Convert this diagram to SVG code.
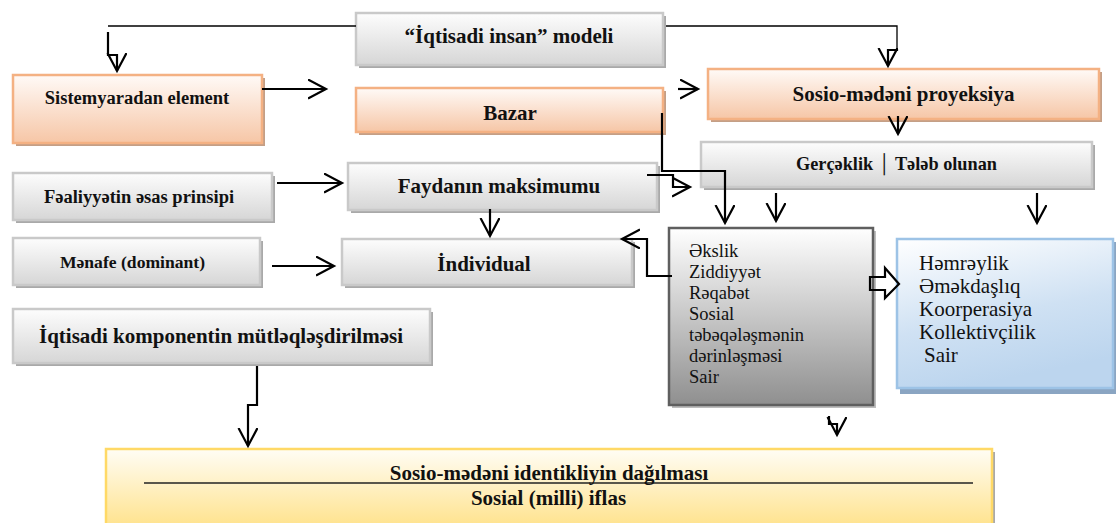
<svg xmlns="http://www.w3.org/2000/svg" width="1116" height="523" viewBox="0 0 1116 523">
<defs>
<linearGradient id="gGrey" x1="0" y1="0" x2="0" y2="1"><stop offset="0" stop-color="#fdfdfd"/><stop offset="1" stop-color="#d6d6d6"/></linearGradient>
<linearGradient id="gOrange" x1="0" y1="0" x2="0" y2="1"><stop offset="0" stop-color="#fffaf7"/><stop offset="1" stop-color="#f6c6a6"/></linearGradient>
<linearGradient id="gDark" x1="0" y1="0" x2="0" y2="1"><stop offset="0" stop-color="#ffffff"/><stop offset="1" stop-color="#8f8f8f"/></linearGradient>
<linearGradient id="gBlue" x1="0" y1="0" x2="0.3" y2="1"><stop offset="0" stop-color="#ffffff"/><stop offset="0.6" stop-color="#cfe1f3"/><stop offset="1" stop-color="#bcd5ee"/></linearGradient>
<linearGradient id="gGold" x1="0" y1="0" x2="0" y2="1"><stop offset="0" stop-color="#fffdf5"/><stop offset="1" stop-color="#ffe38f"/></linearGradient>
<marker id="ah" markerUnits="userSpaceOnUse" markerWidth="22" markerHeight="22" refX="18" refY="10" orient="auto">
<path d="M0,0.5 L18,10 L0,19.5" fill="none" stroke="#000" stroke-width="2.2"/>
</marker>
</defs>
<style>
.grey{fill:url(#gGrey);stroke:#c9c9c9;stroke-width:2.5}
.orange{fill:url(#gOrange);stroke:#f4b183;stroke-width:2.5}
.dark{fill:url(#gDark);stroke:#5f5f5f;stroke-width:2.5}
.blue{fill:url(#gBlue);stroke:#9dc3e6;stroke-width:2.5}
.gold{fill:url(#gGold);stroke:#ffd966;stroke-width:2.5}
.shG{fill:#a9a9a9}
.shO{fill:#c49f86}
.shD{fill:#bdbdbd}
.shB{fill:#8aa5c2}
.b{font-family:"Liberation Serif","DejaVu Serif","Times New Roman",serif;font-weight:bold;fill:#111;text-anchor:middle}
.r{font-family:"Liberation Serif","DejaVu Serif","Times New Roman",serif;fill:#111}
.con path{fill:none;stroke:#000;stroke-width:2.2}
.con .thin{stroke-width:1.3}
</style>

<g id="model">
<rect class="shG" x="359" y="16" width="307" height="52"/>
<rect class="grey" x="356" y="13" width="307" height="52"/>
<text class="b" x="509" y="43" font-size="21">“İqtisadi insan” modeli</text>
</g>

<g id="sistemyaradan">
<rect class="shO" x="16" y="78" width="249" height="68"/>
<rect class="orange" x="13" y="75" width="249" height="68"/>
<text class="b" x="137" y="104" font-size="18.5">Sistemyaradan element</text>
</g>

<g id="bazar">
<rect class="shO" x="359" y="91" width="307" height="44"/>
<rect class="orange" x="356" y="88" width="307" height="44"/>
<text class="b" x="510" y="120" font-size="21">Bazar</text>
</g>

<g id="proyeksiya">
<rect class="shO" x="711" y="72" width="391" height="50"/>
<rect class="orange" x="708" y="69" width="391" height="50"/>
<text class="b" x="903.5" y="101" font-size="21">Sosio-mədəni proyeksiya</text>
</g>

<g id="gercheklik">
<rect class="shG" x="704" y="145" width="391" height="45"/>
<rect class="grey" x="701" y="142" width="391" height="45"/>
<text class="b" x="896.5" y="170" font-size="18.3">Gerçəklik │ Tələb olunan</text>
</g>

<g id="fealiyyet">
<rect class="shG" x="16" y="176" width="259" height="47"/>
<rect class="grey" x="13" y="173" width="259" height="47"/>
<text class="b" x="139" y="203" font-size="18.5">Fəaliyyətin əsas prinsipi</text>
</g>

<g id="faydanin">
<rect class="shG" x="351" y="166" width="309" height="47"/>
<rect class="grey" x="348" y="163" width="309" height="47"/>
<text class="b" x="499" y="193" font-size="21">Faydanın maksimumu</text>
</g>

<g id="menafe">
<rect class="shG" x="16" y="241" width="247" height="47"/>
<rect class="grey" x="13" y="238" width="247" height="47"/>
<text class="b" x="132.5" y="268" font-size="17.6">Mənafe (dominant)</text>
</g>

<g id="individual">
<rect class="shG" x="345" y="242" width="290" height="46"/>
<rect class="grey" x="342" y="239" width="290" height="46"/>
<text class="b" x="484" y="271" font-size="21">İndividual</text>
</g>

<g id="komponent">
<rect class="shG" x="16" y="312" width="417" height="54"/>
<rect class="grey" x="13" y="309" width="417" height="54"/>
<text class="b" x="221" y="343" font-size="21">İqtisadi komponentin mütləqləşdirilməsi</text>
</g>

<g id="ekslik">
<rect class="shD" x="672" y="231" width="204" height="177"/>
<rect class="dark" x="669" y="228" width="204" height="177"/>
<text class="r" x="689" y="257" font-size="18.5">Əkslik</text>
<text class="r" x="689" y="278" font-size="18.5">Ziddiyyət</text>
<text class="r" x="689" y="299" font-size="18.5">Rəqabət</text>
<text class="r" x="689" y="320" font-size="18.5">Sosial</text>
<text class="r" x="689" y="341" font-size="18.5">təbəqələşmənin</text>
<text class="r" x="689" y="362" font-size="18.5">dərinləşməsi</text>
<text class="r" x="689" y="383" font-size="18.5">Sair</text>
</g>

<g id="hemreylik">
<rect class="shB" x="900" y="242" width="216" height="152"/>
<rect class="blue" x="897" y="239" width="216" height="149"/>
<text class="r" x="919" y="270" font-size="21">Həmrəylik</text>
<text class="r" x="919" y="293" font-size="21">Əməkdaşlıq</text>
<text class="r" x="919" y="316" font-size="21">Koorperasiya</text>
<text class="r" x="919" y="339" font-size="21">Kollektivçilik</text>
<text class="r" x="924" y="362" font-size="21">Sair</text>
</g>

<g id="iflas">
<rect class="shG" x="109" y="452" width="886" height="74"/>
<rect class="gold" x="106" y="449" width="886" height="76"/>
<line x1="144" y1="483" x2="973" y2="483" stroke="#222" stroke-width="1.3"/>
<text class="b" x="549" y="480" font-size="21">Sosio-mədəni identikliyin dağılması</text>
<text class="b" x="548.5" y="505" font-size="21">Sosial (milli) iflas</text>
</g>

<g id="connectors" class="con">
<path class="thin" d="M108,26 H356"/>
<path d="M108,32 V55 H117 V71" marker-end="url(#ah)"/>
<path class="thin" d="M666,26 H897 V50"/>
<path d="M897,49 V50 H888 V66" marker-end="url(#ah)"/>
<path d="M262,89 H326" marker-end="url(#ah)"/>
<path d="M678,89 H698" marker-end="url(#ah)"/>
<path d="M898,116 V134" marker-end="url(#ah)"/>
<path d="M277,183 H342" marker-end="url(#ah)"/>
<path d="M272,266 H334" marker-end="url(#ah)"/>
<path d="M490,209 V236" marker-end="url(#ah)"/>
<path d="M647,175 H673 V187 H690" marker-end="url(#ah)"/>
<path d="M662,113 V171 H725 V223" marker-end="url(#ah)"/>
<path d="M776,193 V221" marker-end="url(#ah)"/>
<path d="M1037,193 V223" marker-end="url(#ah)"/>
<path d="M672,276 H647 V239 H622" marker-end="url(#ah)"/>
<path d="M870,277 H885 V268 L899,284 L885,298 V290 H870 Z" fill="#fff" stroke-linejoin="miter"/>
<path d="M829,416 V424 H837 V435" marker-end="url(#ah)"/>
<path d="M257,366 V405 H248 V446" marker-end="url(#ah)"/>
</g>
</svg>
